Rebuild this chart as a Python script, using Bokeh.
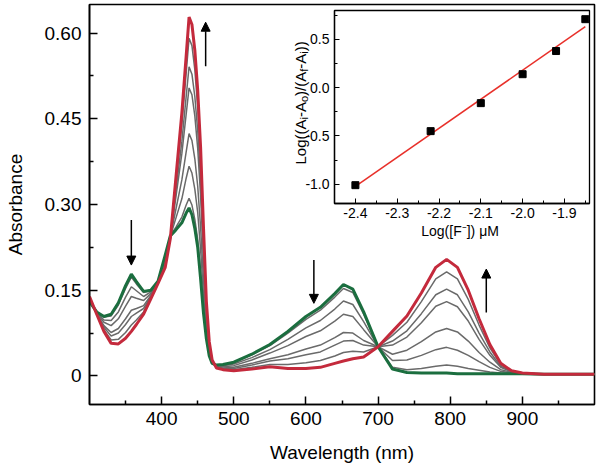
import numpy as np
from bokeh.plotting import figure
from bokeh.models import Range1d, FixedTicker, Arrow, NormalHead, Label
from bokeh.embed import file_html
from bokeh.resources import INLINE

# ---------------- data ----------------
wavelength = [300, 310, 320, 330, 340, 350, 358, 365, 375, 385,
              395, 405, 412, 420, 428, 434, 438, 442, 446, 450,
              454, 458, 462, 466, 470, 476, 485, 500, 525, 550,
              575, 600, 620, 640, 652, 665, 680, 700, 720, 740,
              760, 780, 795, 810, 825, 840, 855, 870, 885, 900,
              930, 960, 1000]

abs_initial = [.130, .112, .104, .108, .128, .158, .178, .165, .148, .150,
               .166, .212, .245, .256, .268, .285, .294, .282, .258, .225,
               .170, .110, .065, .035, .022, .019, .020, .024, .038, .055,
               .078, .104, .120, .144, .160, .152, .112, .051, .012, .006,
               .005, .005, .005, .004, .004, .004, .004, .004, .004, .004,
               .003, .003, .003]

abs_final = [.139, .108, .078, .057, .056, .066, .078, .090, .108, .135,
             .162, .190, .240, .350, .460, .560, .628, .615, .570, .500,
             .400, .260, .130, .060, .028, .014, .011, .009, .012, .016,
             .013, .013, .015, .022, .026, .030, .033, .051, .078, .105,
             .145, .190, .204, .190, .150, .100, .055, .022, .009, .005,
             .003, .003, .003]

abs_step1 = [.130, .112, .103, .105, .124, .153, .173, .161, .146, .149,
             .166, .211, .245, .261, .278, .299, .311, .299, .274, .239,
             .182, .118, .068, .036, .022, .019, .020, .023, .037, .053,
             .075, .099, .115, .138, .153, .146, .108, .051, .015, .011,
             .013, .017, .019, .017, .013, .010, .007, .005, .004, .004,
             .003, .003, .003]

abs_step2 = [.132, .111, .098, .097, .112, .138, .156, .149, .139, .147,
             .165, .207, .244, .277, .310, .346, .367, .355, .327, .286,
             .221, .143, .079, .041, .023, .018, .018, .021, .032, .046,
             .064, .084, .097, .117, .131, .125, .095, .051, .027, .028,
             .036, .046, .050, .045, .036, .025, .015, .008, .005, .004,
             .003, .003, .003]

abs_step3 = [.134, .110, .094, .088, .100, .122, .139, .136, .132, .144,
             .164, .203, .243, .293, .343, .392, .424, .412, .380, .332,
             .260, .169, .090, .045, .024, .017, .016, .018, .028, .040,
             .053, .069, .079, .096, .108, .104, .081, .051, .038, .045,
             .060, .077, .083, .077, .061, .041, .024, .011, .006, .004,
             .003, .003, .003]

abs_step4 = [.136, .109, .088, .076, .083, .100, .115, .118, .123, .141,
             .163, .198, .242, .315, .389, .458, .504, .492, .455, .398,
             .315, .205, .106, .051, .026, .016, .014, .015, .022, .030,
             .037, .047, .054, .067, .076, .075, .062, .051, .054, .068,
             .093, .122, .130, .121, .096, .064, .036, .015, .007, .005,
             .003, .003, .003]

abs_step5 = [.137, .109, .085, .070, .075, .090, .104, .110, .118, .139,
             .163, .196, .241, .326, .410, .489, .541, .528, .489, .429,
             .340, .221, .113, .054, .026, .015, .013, .013, .019, .026,
             .030, .037, .042, .054, .061, .062, .054, .051, .061, .079,
             .109, .142, .152, .142, .112, .075, .042, .017, .008, .005,
             .003, .003, .003]

abs_step6 = [.138, .108, .081, .063, .064, .076, .089, .098, .112, .137,
             .162, .192, .241, .340, .439, .530, .591, .578, .536, .470,
             .375, .244, .123, .057, .027, .015, .012, .011, .015, .020,
             .020, .023, .027, .035, .041, .043, .042, .051, .071, .094,
             .130, .170, .182, .170, .134, .089, .049, .020, .008, .005,
             .003, .003, .003]

x_ticks = [400, 500, 600, 700, 800, 900]
x_minor = [350, 450, 550, 650, 750, 850, 950]
y_ticks = [0, 0.15, 0.30, 0.45, 0.60]
y_tick_labels = ["0", "0.15", "0.30", "0.45", "0.60"]
y_minor = [0.075, 0.225, 0.375, 0.525]

# inset data
log_f = [-2.40, -2.22, -2.10, -2.00, -1.92, -1.85]
log_ratio = [-1.01, -0.45, -0.16, 0.14, 0.38, 0.71]
ins_x_ticks = [-2.4, -2.3, -2.2, -2.1, -2.0, -1.9]
ins_x_labels = ["-2.4", "-2.3", "-2.2", "-2.1", "-2.0", "-1.9"]
ins_x_minor = [-2.45, -2.35, -2.25, -2.15, -2.05, -1.95, -1.85]
ins_y_ticks = [-1.0, -0.5, 0.0, 0.5]
ins_y_labels = ["-1.0", "-0.5", "0.0", "0.5"]
ins_y_minor = [-0.75, -0.25, 0.25, 0.75]

FONT = "Liberation Sans"
GREEN = "#1b6e3f"
RED = "#c42a3c"
GREY = "#6a6a6a"

# ---------------- main figure ----------------
p = figure(width=598, height=470, x_range=Range1d(300, 1000), y_range=Range1d(-0.05, 0.65),
           output_backend="svg", toolbar_location=None,
           min_border_left=89, min_border_right=4, min_border_top=4, min_border_bottom=66)
p.grid.visible = False
p.outline_line_color = "black"
p.outline_line_width = 1.6
p.outline_line_alpha = 1.0

for ys in [abs_step1, abs_step2, abs_step3, abs_step4, abs_step5, abs_step6]:
    p.line(wavelength, ys, line_color=GREY, line_width=1.5)
p.line(wavelength, abs_initial, line_color=GREEN, line_width=3)
p.line(wavelength, abs_final, line_color=RED, line_width=3)

p.xaxis.ticker = FixedTicker(ticks=x_ticks, minor_ticks=x_minor)
p.yaxis.ticker = FixedTicker(ticks=y_ticks, minor_ticks=y_minor)
p.yaxis.major_label_overrides = {t: l for t, l in zip(y_ticks, y_tick_labels)}
for ax in (p.xaxis[0], p.yaxis[0]):
    ax.axis_line_width = 1.6
    ax.major_tick_in = 8
    ax.major_tick_out = 0
    ax.minor_tick_in = 4
    ax.minor_tick_out = 0
    ax.major_tick_line_width = 1.5
    ax.minor_tick_line_width = 1.5
    ax.major_label_text_font = FONT
    ax.major_label_text_font_size = "19px"
    ax.major_label_text_color = "black"
    ax.axis_label_text_font = FONT
    ax.axis_label_text_font_size = "19px"
    ax.axis_label_text_font_style = "normal"
    ax.axis_label_text_color = "black"
p.xaxis.axis_label = "Wavelength (nm)"
p.yaxis.axis_label = "Absorbance"
p.xaxis.major_label_standoff = 7
p.yaxis.major_label_standoff = 8
p.xaxis.axis_label_standoff = 14
p.yaxis.axis_label_standoff = 16

arrows = [(358, 0.273, 0.194), (461, 0.542, 0.619), (611, 0.203, 0.127), (850, 0.111, 0.187)]
for ax_x, y0, y1 in arrows:
    p.add_layout(Arrow(end=NormalHead(size=9, fill_color="black", line_color="black"),
                       x_start=ax_x, y_start=y0, x_end=ax_x, y_end=y1,
                       line_width=1.5, line_color="black"))

# vertical label of the inset (drawn on the main canvas, left of the inset frame)
seg_texts = ["Log((A", "i", "-A", "o", ")/(A", "f", "-A", "i", "))"]
seg_sub = [False, True, False, True, False, True, False, True, False]
seg_off = [0, 45.0, 47.4, 62.4, 68.5, 92.7, 95.8, 110.8, 113.2]
px_per_nm = 505 / 700
px_per_abs = 400 / 0.7
base_x = 300 + (300 - 89) / px_per_nm
sub_x = 300 + (303 - 89) / px_per_nm
start_y = 0.65 - (164 - 4) / px_per_abs
for txt, sub, off in zip(seg_texts, seg_sub, seg_off):
    p.add_layout(Label(x=sub_x if sub else base_x, y=start_y + off / px_per_abs,
                       text=txt, angle=np.pi / 2,
                       text_font=FONT, text_font_size="11px" if sub else "15px",
                       text_align="left", text_baseline="alphabetic", text_color="black"))

# ---------------- inset figure ----------------
ins = figure(width=303, height=233, x_range=Range1d(-2.45, -1.84), y_range=Range1d(-1.2, 0.8),
             output_backend="svg", toolbar_location=None,
             min_border_left=46, min_border_right=2, min_border_top=2, min_border_bottom=36,
             background_fill_color="white", border_fill_alpha=0)
ins.grid.visible = False
ins.outline_line_color = "black"
ins.outline_line_width = 1.3
ins.outline_line_alpha = 1.0

slope, intercept = np.polyfit(log_f, log_ratio, 1)
fit_x = [min(log_f), max(log_f)]
fit_y = [slope * v + intercept for v in fit_x]
ins.line(fit_x, fit_y, line_color="#e8302a", line_width=1.5)
ins.scatter(log_f, log_ratio, marker="square", size=7, color="black")

ins.xaxis.ticker = FixedTicker(ticks=ins_x_ticks, minor_ticks=ins_x_minor)
ins.yaxis.ticker = FixedTicker(ticks=ins_y_ticks, minor_ticks=ins_y_minor)
ins.xaxis.major_label_overrides = {t: l for t, l in zip(ins_x_ticks, ins_x_labels)}
ins.yaxis.major_label_overrides = {t: l for t, l in zip(ins_y_ticks, ins_y_labels)}
for ax in (ins.xaxis[0], ins.yaxis[0]):
    ax.axis_line_width = 1.3
    ax.major_tick_in = 5
    ax.major_tick_out = 0
    ax.minor_tick_in = 3
    ax.minor_tick_out = 0
    ax.major_label_text_font = FONT
    ax.major_label_text_font_size = "14px"
    ax.major_label_text_color = "black"
    ax.axis_label_text_font = FONT
    ax.axis_label_text_font_size = "14px"
    ax.axis_label_text_font_style = "normal"
    ax.axis_label_text_color = "black"
ins.xaxis.major_label_standoff = 4
ins.yaxis.major_label_standoff = 5
ins.xaxis.axis_label = "Log([F\u207b])  \u03bcM"
ins.xaxis.axis_label_standoff = 2

ins.styles = {"position": "absolute", "left": "288px", "top": "8px"}

open("out.html", "w").write(file_html([p, ins], INLINE))
